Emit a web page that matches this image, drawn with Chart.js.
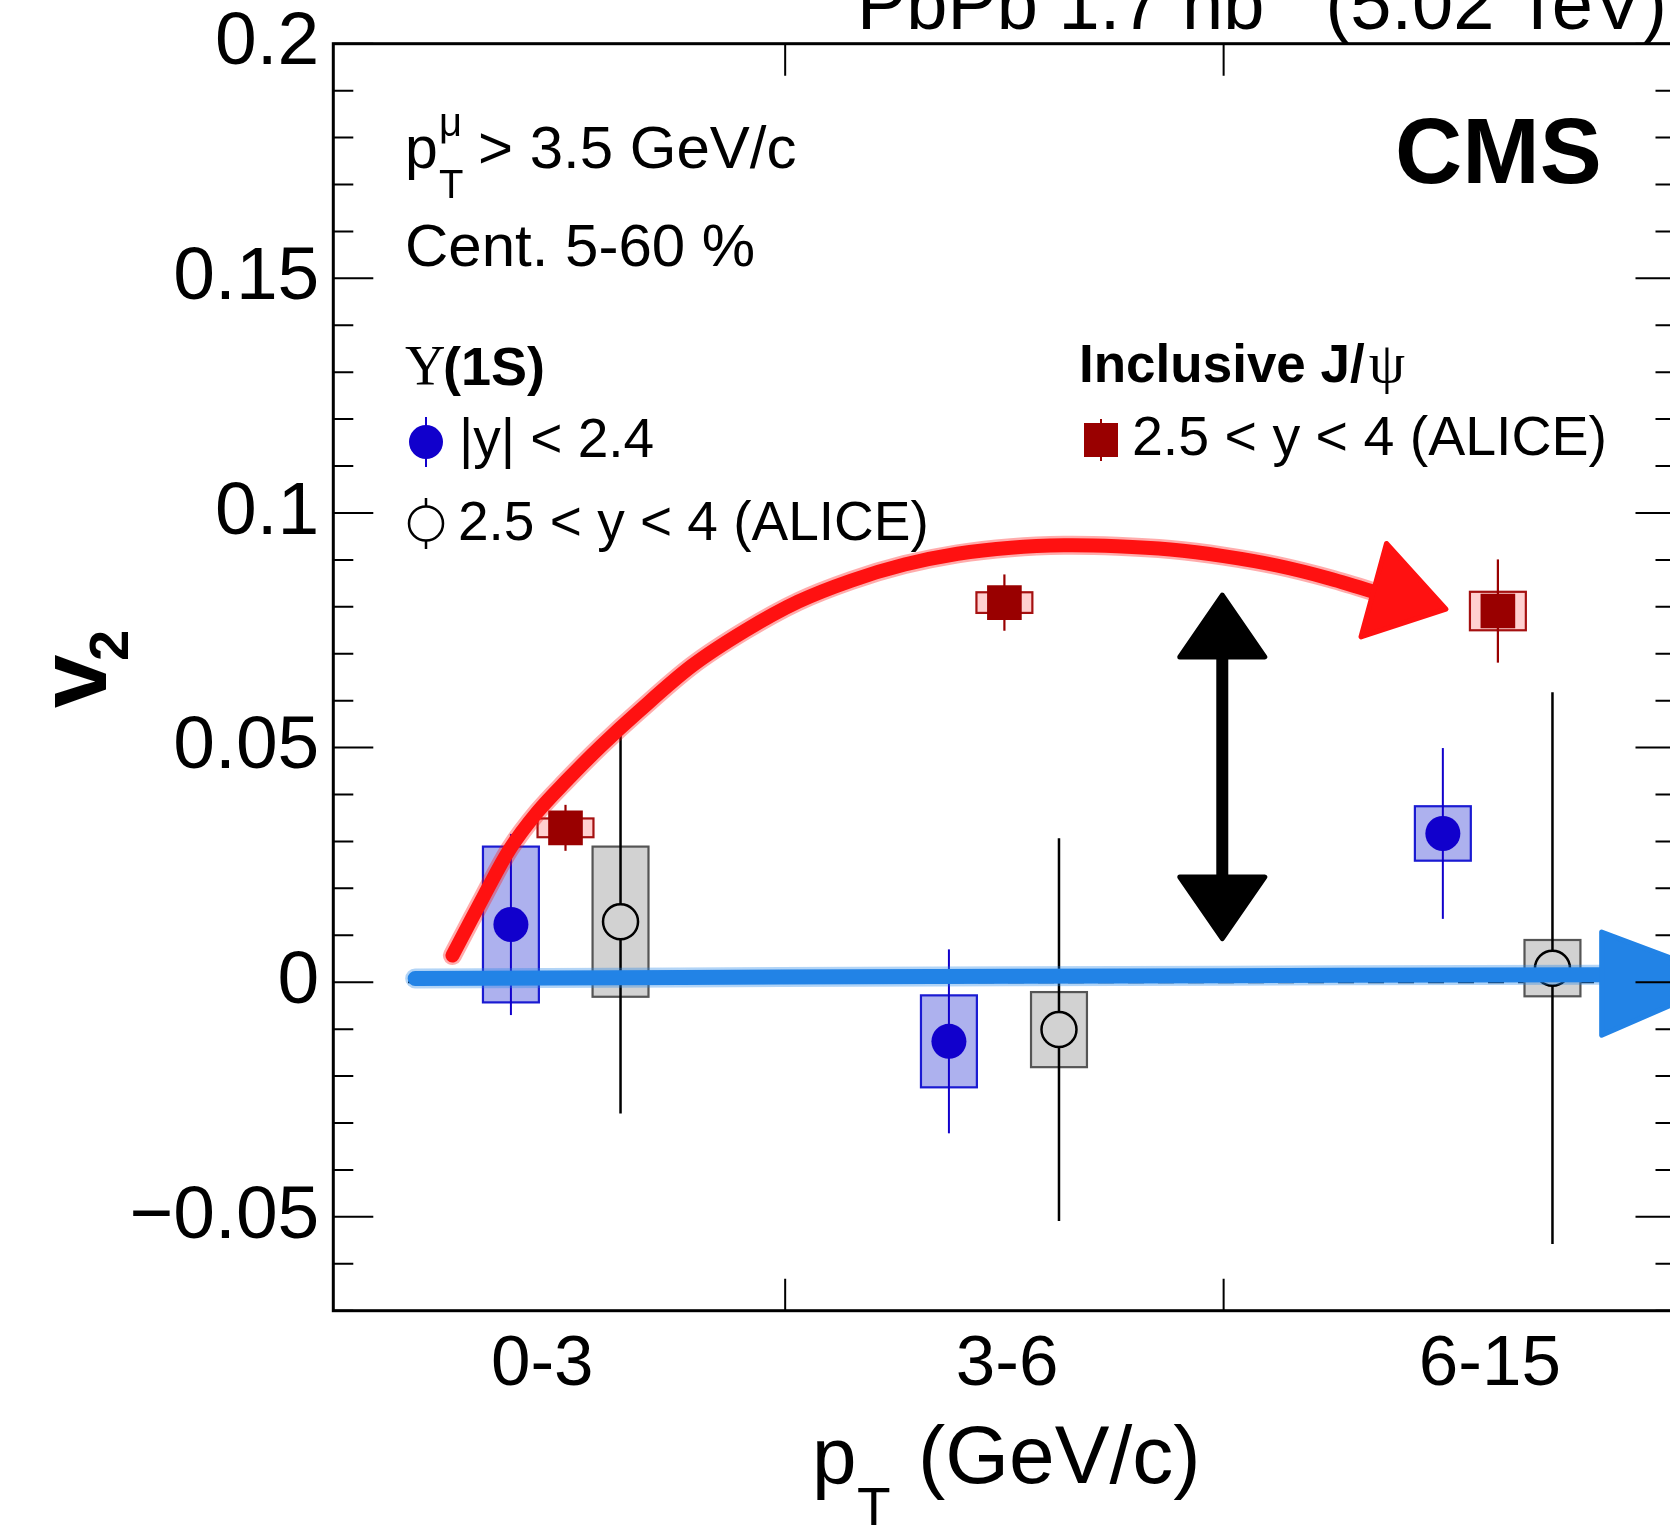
<!DOCTYPE html>
<html><head><meta charset="utf-8">
<script src="https://cdn.jsdelivr.net/npm/chart.js@4.4.1/dist/chart.umd.min.js"></script>
<style>
html,body{margin:0;padding:0;overflow:hidden;background:#fff;width:1670px;height:1525px}
#wrap{position:absolute;left:0;top:0;width:1700px;height:1525px}
canvas{display:block}
</style></head><body>
<div id="wrap"><canvas id="c" width="1700" height="1525"></canvas></div>
<script>
// ---------- data ----------
const categories = ['0-3', '3-6', '6-15'];
const categoryLabelPos = [0.467, 1.506, 2.585];
const binEdgeTicks = [1.01, 1.99];
const yTickValues = [0.2, 0.15, 0.1, 0.05, 0, -0.05];
const yTickLabels = ['0.2', '0.15', '0.1', '0.05', '0', '\u22120.05'];
const yMinorStep = 0.01;
const yMin = -0.07, yMax = 0.2, xMin = 0, xMax = 3;

// CMS Upsilon(1S), |y| < 2.4
const cmsX = [0.397, 1.376, 2.480];
const cmsV2 = [0.0123, -0.0126, 0.0317];
const cmsStat = [0.0193, 0.0196, 0.0182];
const cmsSyst = [0.0166, 0.0098, 0.0058];
// ALICE Upsilon(1S), 2.5 < y < 4
const aliceUpsX = [0.642, 1.622, 2.725];
const aliceUpsV2 = [0.0129, -0.0101, 0.0030];
const aliceUpsStat = [0.0409, 0.0408, 0.0588];
const aliceUpsSyst = [0.0160, 0.0080, 0.0060];
// ALICE inclusive J/psi, 2.5 < y < 4
const aliceJpsiX = [0.519, 1.500, 2.603];
const aliceJpsiV2 = [0.0329, 0.0809, 0.0791];
const aliceJpsiStat = [0.0049, 0.0060, 0.0110];
const aliceJpsiSyst = [0.0020, 0.0022, 0.0041];
const systHalfWidth = 0.0625;

// hand-drawn annotations (data units)
const redArrowPath = [[0.2663,0.0057],[0.3377,0.0186],[0.3947,0.0284],[0.4565,0.0363],[0.5207,0.0429],[0.5991,0.0504],[0.6824,0.0577],[0.8013,0.0674],[0.9201,0.0749],[1.039,0.0811],[1.158,0.0856],[1.277,0.0890],[1.3955,0.0913],[1.5145,0.0926],[1.633,0.0931],[1.752,0.0929],[1.871,0.0922],[1.990,0.0908],[2.109,0.0888],[2.228,0.0860],[2.346,0.0826]];
const redArrowHead = [[2.354,0.0935],[2.487,0.0795],[2.297,0.0736]];
const blueArrowPath = [[0.183,0.0008],[1.0,0.0011],[2.0,0.0014],[2.845,0.0016]];
const blueArrowHead = [[2.835,0.0107],[3.12,0.0005],[2.835,-0.0113]];
const blackArrowX = 1.987;
const blackArrowShaft = [0.0693, 0.0224];
const blackArrowTips = [0.0825, 0.0093];
const blackArrowHalfWidth = 0.095;

// ---------- style ----------
const SANS = '"Liberation Sans", Arial, Helvetica, sans-serif';
const SERIF = '"Liberation Serif", "Times New Roman", serif';
const BLUE = '#1100cc', BLUE_BOX = '#adb1ee', BLUE_EDGE = '#1a1ad2';
const GREY_BOX = '#d2d2d2', GREY_EDGE = '#555555';
const RED = '#990000', RED_BOX = '#ffd0d0', RED_EDGE = '#a51010';

const pts = (xs, ys) => xs.map((x, i) => ({x: x, y: ys[i]}));

function smoothPath(ctx, p) {
  ctx.moveTo(p[0][0], p[0][1]);
  for (let i = 0; i < p.length - 1; i++) {
    const p0 = p[i-1] || p[i], p1 = p[i], p2 = p[i+1], p3 = p[i+2] || p2;
    ctx.bezierCurveTo(p1[0] + (p2[0]-p0[0])/6, p1[1] + (p2[1]-p0[1])/6,
                      p2[0] - (p3[0]-p1[0])/6, p2[1] - (p3[1]-p1[1])/6, p2[0], p2[1]);
  }
}

const physicsPlugin = {
  id: 'physics',
  beforeDatasetsDraw(chart) {
    const ctx = chart.ctx, xs = chart.scales.x, ys = chart.scales.y;
    const X = v => xs.getPixelForValue(v), Y = v => ys.getPixelForValue(v);
    ctx.save();
    // dashed zero line
    ctx.strokeStyle = '#000'; ctx.lineWidth = 2; ctx.setLineDash([16, 14]);
    ctx.beginPath(); ctx.moveTo(X(0.167), Y(0)); ctx.lineTo(X(xMax), Y(0)); ctx.stroke();
    ctx.setLineDash([]);
    const series = [
      {x: cmsX, v: cmsV2, st: cmsStat, sy: cmsSyst, fill: BLUE_BOX, edge: BLUE_EDGE, line: BLUE, lw: 2, hollowR: 0},
      {x: aliceJpsiX, v: aliceJpsiV2, st: aliceJpsiStat, sy: aliceJpsiSyst, fill: RED_BOX, edge: RED_EDGE, line: RED, lw: 2.2, hollowR: 0},
      {x: aliceUpsX, v: aliceUpsV2, st: aliceUpsStat, sy: aliceUpsSyst, fill: GREY_BOX, edge: GREY_EDGE, line: '#000', lw: 2.5, hollowR: 17.5}
    ];
    series.forEach(s => {
      s.x.forEach((xv, i) => {
        const x0 = X(xv - systHalfWidth), x1 = X(xv + systHalfWidth);
        const yt = Y(s.v[i] + s.sy[i]), yb = Y(s.v[i] - s.sy[i]);
        ctx.fillStyle = s.fill; ctx.fillRect(x0, yt, x1 - x0, yb - yt);
        ctx.strokeStyle = s.edge; ctx.lineWidth = 2.2; ctx.strokeRect(x0, yt, x1 - x0, yb - yt);
      });
    });
    series.forEach(s => {
      s.x.forEach((xv, i) => {
        const px = X(xv), pc = Y(s.v[i]);
        const top = Y(s.v[i] + s.st[i]), bot = Y(s.v[i] - s.st[i]);
        ctx.strokeStyle = s.line; ctx.lineWidth = s.lw;
        ctx.beginPath();
        if (s.hollowR) {
          ctx.moveTo(px, top); ctx.lineTo(px, pc - s.hollowR);
          ctx.moveTo(px, pc + s.hollowR); ctx.lineTo(px, bot);
        } else {
          ctx.moveTo(px, top); ctx.lineTo(px, bot);
        }
        ctx.stroke();
      });
    });
    ctx.restore();
  },
  afterDatasetsDraw(chart) {
    const ctx = chart.ctx, xs = chart.scales.x, ys = chart.scales.y;
    const P = p => [xs.getPixelForValue(p[0]), ys.getPixelForValue(p[1])];
    ctx.save();
    ctx.lineCap = 'round'; ctx.lineJoin = 'round';
    const tri = (arr, col) => {
      const q = arr.map(P);
      ctx.fillStyle = col; ctx.strokeStyle = col; ctx.lineWidth = 5;
      ctx.beginPath(); ctx.moveTo(q[0][0], q[0][1]); ctx.lineTo(q[1][0], q[1][1]); ctx.lineTo(q[2][0], q[2][1]); ctx.closePath();
      ctx.fill(); ctx.stroke();
    };
    const stroke = (arr, col, w) => {
      const q = arr.map(P);
      ctx.strokeStyle = col;
      ctx.globalAlpha = 0.35; ctx.lineWidth = w + 5; ctx.beginPath(); smoothPath(ctx, q); ctx.stroke();
      ctx.globalAlpha = 1; ctx.lineWidth = w; ctx.beginPath(); smoothPath(ctx, q); ctx.stroke();
    };
    // blue horizontal arrow
    stroke(blueArrowPath, '#2283e6', 15);
    tri(blueArrowHead, '#2283e6');
    // red curved arrow
    stroke(redArrowPath, '#ff1111', 14);
    tri(redArrowHead, '#ff1111');
    // black double arrow
    const bx = xs.getPixelForValue(blackArrowX);
    ctx.strokeStyle = '#000'; ctx.lineWidth = 12; ctx.lineCap = 'butt';
    ctx.beginPath(); ctx.moveTo(bx, ys.getPixelForValue(blackArrowShaft[0])); ctx.lineTo(bx, ys.getPixelForValue(blackArrowShaft[1])); ctx.stroke();
    tri([[blackArrowX - blackArrowHalfWidth, blackArrowShaft[0]], [blackArrowX, blackArrowTips[0]], [blackArrowX + blackArrowHalfWidth, blackArrowShaft[0]]], '#000');
    tri([[blackArrowX - blackArrowHalfWidth, blackArrowShaft[1]], [blackArrowX, blackArrowTips[1]], [blackArrowX + blackArrowHalfWidth, blackArrowShaft[1]]], '#000');
    ctx.restore();
  },
  afterDraw(chart) {
    const ctx = chart.ctx, xs = chart.scales.x, ys = chart.scales.y, a = chart.chartArea;
    ctx.save();
    // ticks (inward)
    ctx.strokeStyle = '#000'; ctx.lineWidth = 2;
    ctx.beginPath();
    const nMinor = Math.round((yMax - yMin) / yMinorStep);
    for (let k = 0; k <= nMinor; k++) {
      const v = yMin + k * yMinorStep;
      const major = yTickValues.some(t => Math.abs(t - v) < 1e-6);
      const L = major ? 40 : 20;
      const py = ys.getPixelForValue(v);
      ctx.moveTo(a.left, py); ctx.lineTo(a.left + L, py);
      ctx.moveTo(a.right, py); ctx.lineTo(a.right - L, py);
    }
    binEdgeTicks.forEach(v => {
      const px = xs.getPixelForValue(v);
      ctx.moveTo(px, a.bottom); ctx.lineTo(px, a.bottom - 32);
      ctx.moveTo(px, a.top); ctx.lineTo(px, a.top + 32);
    });
    ctx.stroke();
    // frame
    ctx.lineWidth = 3;
    ctx.strokeRect(a.left, a.top, a.right - a.left, a.bottom - a.top);

    // texts
    ctx.fillStyle = '#000'; ctx.textBaseline = 'alphabetic'; ctx.textAlign = 'left';
    const T = (s, x, y, f, al) => { ctx.font = f; ctx.textAlign = al || 'left'; ctx.fillText(s, x, y); };
    // top title (partly cut at top)
    T('PbPb 1.7 nb', 857, 29, '74px ' + SANS);
    T('\u22121', 1270, -8, '50px ' + SANS);
    T('(5.02 TeV)', 1667, 29, '74px ' + SANS, 'right');
    // CMS
    T('CMS', 1395, 183, 'bold 93px ' + SANS);
    // kinematic text
    T('p', 405, 168, '59px ' + SANS);
    T('T', 439, 198, '40px ' + SANS);
    T('\u03bc', 439, 136, '40px ' + SANS);
    T('> 3.5 GeV/c', 478, 168, '60px ' + SANS);
    T('Cent. 5-60 %', 405, 266, '60px ' + SANS);
    // Upsilon legend
    T('\u03a5', 405, 385, '56px ' + SERIF);
    T('(1S)', 443, 385, 'bold 54px ' + SANS);
    ctx.strokeStyle = BLUE; ctx.lineWidth = 2;
    ctx.beginPath(); ctx.moveTo(426, 417); ctx.lineTo(426, 467); ctx.stroke();
    ctx.fillStyle = BLUE; ctx.beginPath(); ctx.arc(426, 442, 17, 0, 2 * Math.PI); ctx.fill();
    ctx.fillStyle = '#000';
    T('|y| < 2.4', 459, 457, '55px ' + SANS);
    ctx.strokeStyle = '#000'; ctx.lineWidth = 2.5;
    ctx.beginPath(); ctx.moveTo(426, 498); ctx.lineTo(426, 506); ctx.moveTo(426, 541); ctx.lineTo(426, 549); ctx.stroke();
    ctx.beginPath(); ctx.arc(426, 523.5, 17, 0, 2 * Math.PI); ctx.stroke();
    T('2.5 < y < 4 (ALICE)', 458, 540, '55px ' + SANS);
    // J/psi legend
    T('Inclusive J/', 1079, 382, 'bold 53px ' + SANS);
    const wInc = ctx.measureText('Inclusive J/').width;
    T('\u03c8', 1079 + wInc + 4, 382, '58px ' + SERIF);
    ctx.strokeStyle = RED; ctx.lineWidth = 2;
    ctx.beginPath(); ctx.moveTo(1101, 419); ctx.lineTo(1101, 461); ctx.stroke();
    ctx.fillStyle = RED; ctx.fillRect(1084, 423, 34, 34);
    ctx.fillStyle = '#000';
    T('2.5 < y < 4 (ALICE)', 1132, 455, '55.5px ' + SANS);
    // x-axis title
    T('p', 812, 1483, '80px ' + SANS);
    T('T', 857, 1526, '55px ' + SANS);
    T('(GeV/c)', 918, 1483, '82px ' + SANS);
    // y-axis title (rotated)
    ctx.save();
    ctx.translate(106, 708); ctx.rotate(-Math.PI / 2);
    T('v', 0, 0, 'bold 96px ' + SANS);
    T('2', 47, 22, 'bold 56px ' + SANS);
    ctx.restore();
    ctx.restore();
  }
};

const chart = new Chart(document.getElementById('c').getContext('2d'), {
  type: 'scatter',
  data: {
    datasets: [
      {label: 'CMS |y|<2.4', data: pts(cmsX, cmsV2), pointStyle: 'circle', pointRadius: 17.5,
       backgroundColor: BLUE, borderWidth: 0},
      {label: 'ALICE J/psi', data: pts(aliceJpsiX, aliceJpsiV2), pointStyle: 'rect', pointRadius: 24.5,
       backgroundColor: RED, borderWidth: 0},
      {label: 'ALICE Upsilon', data: pts(aliceUpsX, aliceUpsV2), pointStyle: 'circle', pointRadius: 17.5,
       backgroundColor: 'rgba(0,0,0,0)', borderColor: '#000', borderWidth: 2.5}
    ]
  },
  options: {
    responsive: false, animation: false, devicePixelRatio: 1,
    layout: {padding: {left: 0, top: 43.7, right: 22.7, bottom: 0}},
    plugins: {legend: {display: false}, tooltip: {enabled: false}},
    elements: {point: {hoverRadius: 17}},
    scales: {
      x: {
        type: 'linear', min: xMin, max: xMax, position: 'bottom',
        grid: {display: false, drawTicks: false}, border: {display: false},
        afterBuildTicks: s => { s.ticks = categoryLabelPos.map(v => ({value: v})); },
        ticks: {callback: (v, i) => categories[i], font: {family: SANS, size: 71}, color: '#000',
                padding: 12, maxRotation: 0, minRotation: 0, autoSkip: false},
        afterFit: s => { s.height = 214.3; s.paddingLeft = 0; s.paddingRight = 0; }
      },
      y: {
        type: 'linear', min: yMin, max: yMax,
        grid: {display: false, drawTicks: false}, border: {display: false},
        afterBuildTicks: s => { s.ticks = yTickValues.map(v => ({value: v})); },
        ticks: {callback: (v, i) => yTickLabels[i], font: {family: SANS, size: 75}, color: '#000',
                padding: 14, autoSkip: false},
        afterFit: s => { s.width = 333.3; s.paddingTop = 0; s.paddingBottom = 0; }
      }
    }
  },
  plugins: [physicsPlugin]
});
</script>
</body></html>
